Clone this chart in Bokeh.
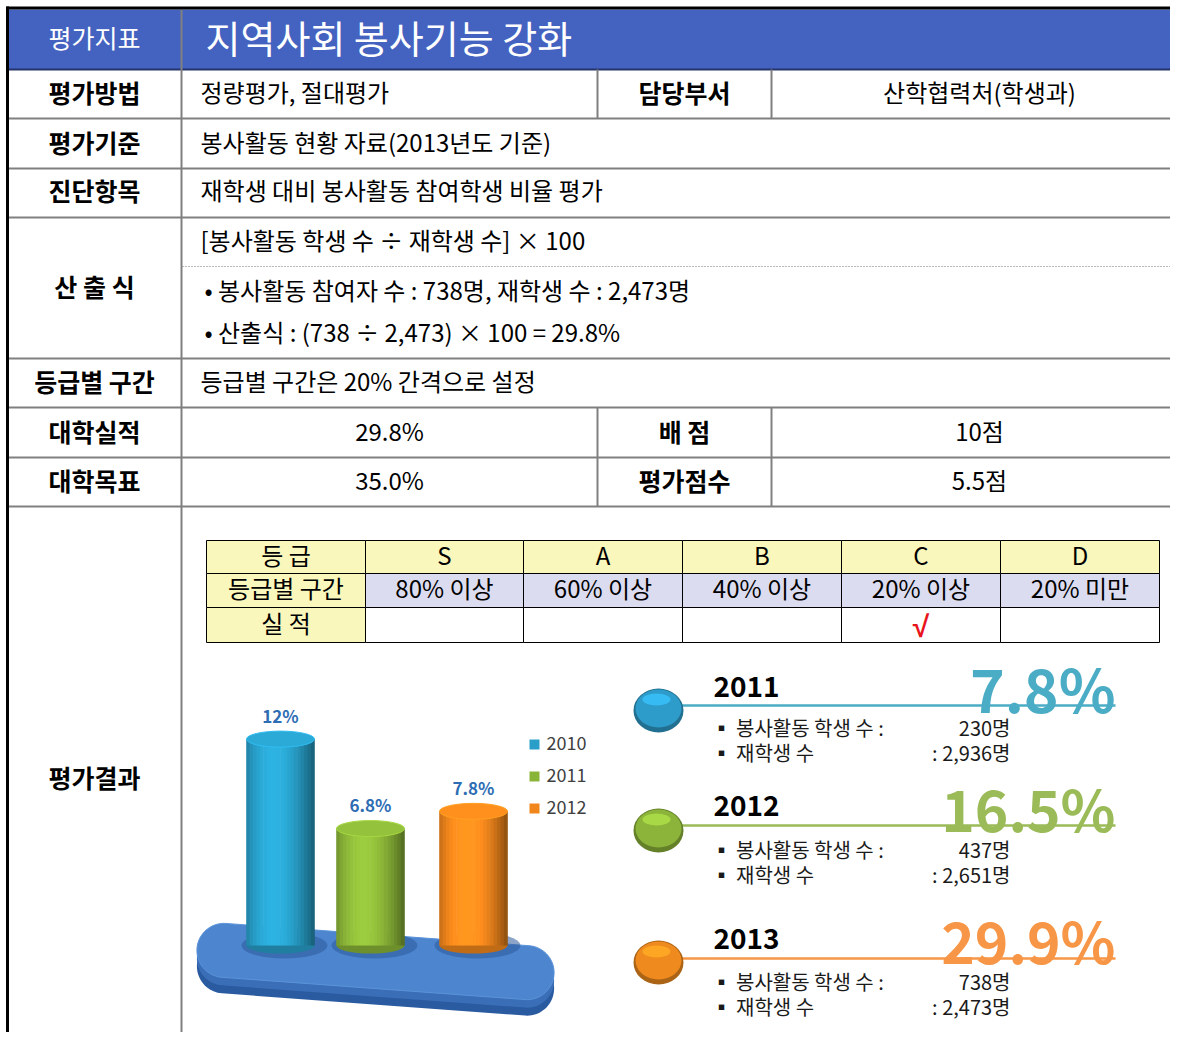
import numpy as np
from bokeh.plotting import figure
from bokeh.models import Range1d
from bokeh.core.properties import value
from bokeh.embed import file_html
from bokeh.resources import INLINE

FONT = "Noto Sans CJK KR"

# ---------------- data ----------------
header_label = "평가지표"
header_title = "지역사회 봉사기능 강화"
row_labels = ["평가방법", "평가기준", "진단항목", "산 출 식", "등급별 구간", "대학실적", "대학목표", "평가결과"]
method_text = "정량평가, 절대평가"
dept_label = "담당부서"
dept_text = "산학협력처(학생과)"
basis_text = "봉사활동 현황 자료(2013년도 기준)"
item_text = "재학생 대비 봉사활동 참여학생 비율 평가"
formula_lines = ["[봉사활동 학생 수 ÷ 재학생 수] × 100",
                 "• 봉사활동 참여자 수 : 738명, 재학생 수 : 2,473명",
                 "• 산출식 : (738 ÷ 2,473) × 100 = 29.8%"]
range_text = "등급별 구간은 20% 간격으로 설정"
result_values = ["29.8%", "35.0%"]
score_labels = ["배 점", "평가점수"]
score_values = ["10점", "5.5점"]

grade_row_labels = ["등 급", "등급별 구간", "실 적"]
grades = ["S", "A", "B", "C", "D"]
grade_ranges = ["80% 이상", "60% 이상", "40% 이상", "20% 이상", "20% 미만"]
achieved_grade = "C"

chart_years = ["2010", "2011", "2012"]
chart_rates = [12.0, 6.8, 7.8]
chart_labels = ["12%", "6.8%", "7.8%"]

tl_years = ["2011", "2012", "2013"]
tl_rates = [7.8, 16.5, 29.9]
tl_volunteers = [230, 437, 738]
tl_enrolled = [2936, 2651, 2473]

# ---------------- figure ----------------
W_FIG, H_FIG = 1170, 1032
p = figure(width=W_FIG, height=H_FIG, x_range=Range1d(0, W_FIG), y_range=Range1d(H_FIG, 0),
           output_backend="svg", toolbar_location=None, min_border=0,
           x_axis_location=None, y_axis_location=None, title=None)
p.grid.visible = False
p.outline_line_color = None
p.background_fill_color = "white"
p.border_fill_color = "white"

# percentage scale for the cylinder chart (base at pixel 945, 17.2 px per %)
BASE, K = 945.0, 17.2
p.extra_y_ranges = {"pct": Range1d(start=(BASE - H_FIG) / K, end=BASE / K)}


def txt(x, y, s, size, color="black", align="left", bold=False, font=FONT, dy=-3, **kw):
    n = max(len(a) if isinstance(a, list) else 1 for a in (x, y, s))
    xs = x if isinstance(x, list) else [x] * n
    ys = y if isinstance(y, list) else [y] * n
    ss = s if isinstance(s, list) else [s] * n
    p.text(x=xs, y=ys, text=ss, text_font=value(font), text_font_size=f"{size}px",
           text_color=color, text_align=align, text_baseline="middle", y_offset=dy,
           text_font_style="bold" if bold else "normal", **kw)


# ---------------- main table ----------------
p.quad(left=8, right=1186, top=9, bottom=69, fill_color="#4462C0", line_color=None)
row_lines_y = [118, 168, 217, 358, 407, 457, 506]
p.multi_line(xs=[[8, 1186]] * len(row_lines_y), ys=[[y, y] for y in row_lines_y],
             line_color="#808080", line_width=2)
p.line([8, 1186], [69, 69], line_color="#24346a", line_width=2)
p.line([181, 181], [9, 1048], line_color="#808080", line_width=2)
p.multi_line(xs=[[597, 597], [771, 771], [597, 597], [771, 771]],
             ys=[[69, 118], [69, 118], [407, 506], [407, 506]],
             line_color="#808080", line_width=2)
p.line([182, 1186], [266, 266], line_color="#777777", line_width=1, line_dash="1 2")
p.line([7, 7], [6, 1048], line_color="black", line_width=3)
p.line([6, 1186], [7.5, 7.5], line_color="black", line_width=3)

txt(94, 39, header_label, 25, color="white", align="center")
txt(205, 39, header_title, 38, color="white")

label_y = [94, 144, 192, 288, 383, 433, 482, 779]
txt(94, label_y, row_labels, 25, align="center", bold=True)

txt(200, 94, method_text, 24)
txt(684, 94, dept_label, 25, align="center", bold=True)
txt(979, 94, dept_text, 24, align="center")
txt(200, 144, basis_text, 24)
txt(200, 192, item_text, 24)
txt([200, 204, 204], [242, 292, 334], formula_lines, 24)
txt(200, 383, range_text, 24)
txt(389, [433, 482], result_values, 24, align="center")
txt(684, [433, 482], score_labels, 25, align="center", bold=True)
txt(979, [433, 482], score_values, 24, align="center")

# ---------------- grade table ----------------
col_edges = [206, 365, 523, 682, 841, 1000, 1159]
row_edges = [540, 573, 607, 642]
YEL, LAV = "#FAF7BC", "#DCDCF0"
p.quad(left=[col_edges[0]] * 3, right=[col_edges[1]] * 3, top=row_edges[:3], bottom=row_edges[1:],
       fill_color=YEL, line_color="black", line_width=1)
gl = col_edges[1:-1][:len(grades)]
gr = col_edges[2:][:len(grades)]
p.quad(left=gl, right=gr, top=row_edges[0], bottom=row_edges[1], fill_color=YEL,
       line_color="black", line_width=1)
p.quad(left=gl, right=gr, top=row_edges[1], bottom=row_edges[2], fill_color=LAV,
       line_color="black", line_width=1)
p.quad(left=gl, right=gr, top=row_edges[2], bottom=row_edges[3], fill_color="white",
       line_color="black", line_width=1)
row_mid = [(row_edges[i] + row_edges[i + 1]) / 2 for i in range(3)]
col_mid = [(col_edges[i] + col_edges[i + 1]) / 2 for i in range(6)]
txt(col_mid[0], row_mid, grade_row_labels, 24, align="center")
txt(col_mid[1:], row_mid[0], grades, 24, align="center")
txt(col_mid[1:], row_mid[1], grade_ranges, 24, align="center")
gi = grades.index(achieved_grade)
txt(col_mid[1 + gi], row_mid[2] + 1, "√", 30, color="#E8141C", align="center",
    bold=True, font="Liberation Sans", dy=0)

# ---------------- cylinder chart ----------------
def shade(rgb, f):
    return "#%02x%02x%02x" % tuple(int(max(0, min(255, c * f))) for c in rgb)


# platform
L, R = 152, 27
pcx, pcy, th = 375, 961, np.deg2rad(4.2)
a1 = np.linspace(-np.pi / 2, np.pi / 2, 40)
a2 = np.linspace(np.pi / 2, 3 * np.pi / 2, 40)
u = np.r_[L + R * np.cos(a1), -L + R * np.cos(a2)]
v = np.r_[R * np.sin(a1), R * np.sin(a2)]
px = pcx + u * np.cos(th) - v * np.sin(th)
py = pcy + u * np.sin(th) + v * np.cos(th)
p.patch(px, py + 16, fill_color="#2A5BA0", line_color=None)
p.patch(px, py + 8, fill_color="#3A6FB8", line_color=None)
p.patch(px, py, fill_color="#4D86CF", line_color="#5B93D8", line_width=1)

bar_cx = [280, 370, 473]
bar_w = 68
bar_rgb = [(40, 158, 200), (138, 180, 56), (240, 134, 28)]
N = 20
t = (np.arange(N) + 0.5) / N * 2 - 1
prof = (0.66 + 0.48 * np.cos((t + 0.25) * np.pi / 2.6)) * (0.82 + 0.18 * np.sqrt(1 - t ** 2))
for cx, val, rgb in zip(bar_cx, chart_rates, bar_rgb):
    p.ellipse(x=cx + 4, y=0, width=bar_w + 18, height=26, height_units="screen",
              y_range_name="pct", fill_color="#2B5A9A", fill_alpha=0.55, line_color=None)
    p.ellipse(x=cx, y=0, width=bar_w, height=16, height_units="screen", y_range_name="pct",
              fill_color=shade(rgb, 0.8), line_color=None)
    p.vbar(x=cx + t * bar_w / 2, width=bar_w / N + 0.6, top=val, bottom=0,
           fill_color=[shade(rgb, f) for f in prof], line_color=None, y_range_name="pct")
    p.ellipse(x=cx, y=val, width=bar_w, height=16, height_units="screen", y_range_name="pct",
              fill_color=shade(rgb, 1.08), line_color=shade(rgb, 1.2), line_width=1)

p.text(x=bar_cx, y=chart_rates, text=chart_labels, y_range_name="pct", y_offset=-24,
       text_font=value(FONT), text_font_size="17px", text_font_style="bold",
       text_color="#2E6DB4", text_align="center", text_baseline="middle")

leg_y = [744, 776, 808]
p.scatter(x=[534] * 3, y=leg_y, marker="square", size=10,
          fill_color=[shade(c, 1.0) for c in bar_rgb], line_color=None)
txt(546, leg_y, chart_years, 18, color="#404040", dy=-2)

# ---------------- timeline ----------------
tl_cy = [710, 830, 962]
tl_line_y = [705, 825, 958]
tl_year_mid = [689, 808, 941]
tl_pct_mid = [690, 809, 941]
tl_row1 = [730, 852, 984]
tl_row2 = [755, 877, 1009]
tl_ball = [(46, 156, 202), (140, 180, 58), (238, 138, 30)]
tl_text_col = ["#4BACC6", "#9BBB59", "#F79646"]
tl_pct_size = [59, 57, 57]

for i in range(3):
    p.line([680, 1115], [tl_line_y[i]] * 2, line_color=tl_text_col[i], line_width=2.5)
    p.ellipse(x=658, y=tl_cy[i], width=50, height=44, fill_color=shade(tl_ball[i], 0.72),
              line_color=None)
    p.ellipse(x=658, y=tl_cy[i] - 2, width=46, height=38, fill_color=shade(tl_ball[i], 1.0),
              line_color=None)
    p.ellipse(x=656, y=tl_cy[i] - 11, width=28, height=12, fill_color=shade(tl_ball[i], 1.25),
              fill_alpha=0.8, line_color=None)
    txt(713, tl_year_mid[i], tl_years[i], 28, bold=True)
    txt(1115, tl_pct_mid[i], f"{tl_rates[i]}%", tl_pct_size[i], color=tl_text_col[i],
        align="right", bold=True)
    txt(711, tl_row1[i], "▪ 봉사활동 학생 수 :", 20, color="#1a1a1a")
    txt(1010, tl_row1[i], f"{tl_volunteers[i]}명", 20, color="#1a1a1a", align="right")
    txt(711, tl_row2[i], "▪ 재학생 수", 20, color="#1a1a1a")
    txt(1010, tl_row2[i], f": {tl_enrolled[i]:,}명", 20, color="#1a1a1a", align="right")

open("out.html", "w").write(file_html(p, INLINE, "평가결과"))
